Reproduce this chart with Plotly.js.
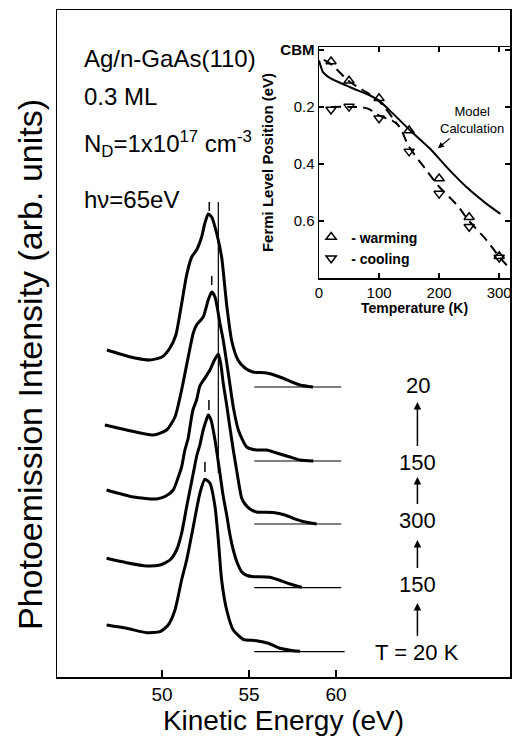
<!DOCTYPE html>
<html>
<head>
<meta charset="utf-8">
<script src="https://cdn.plot.ly/plotly-3.0.1.min.js"></script>
<style>html,body{margin:0;padding:0;background:#fff;}#chart{width:512px;height:736px;}</style>
</head>
<body>
<div id="chart"></div>
<script>
// ---------- Main panel: photoemission spectra (kinetic energy eV vs. intensity, arb. units, offset) ----------
const tempLabels = ['20', '150', '300', '150', 'T = 20 K'];

const energy20b = [46.84, 47.59, 48.45, 49.31, 50.0, 50.46, 50.80, 51.09, 51.42, 51.71, 51.99, 52.28, 52.47, 52.66, 52.86, 53.14, 53.43, 53.72, 54.01, 54.37, 54.77, 55.23, 56.02, 56.78, 57.93, 58.68];
const intens20b = [327, 323, 319, 317, 320, 329, 342, 369, 402, 420, 427, 440, 454, 463, 460, 444, 420, 372, 336, 317, 309, 305, 304, 300, 292, 290];

const energy150b = [46.72, 47.97, 49.50, 50.27, 50.75, 51.13, 51.51, 51.80, 51.99, 52.37, 52.66, 52.86, 53.05, 53.33, 53.52, 53.81, 54.10, 54.39, 54.87, 55.44, 56.02, 56.59, 57.36, 57.93, 58.70];
const intens150b = [252, 247, 242, 247, 260, 287, 320, 344, 352, 360, 377, 385, 380, 354, 337, 304, 270, 247, 230, 227, 227, 224, 220, 217, 216];

const energy300 = [46.82, 48.35, 49.70, 50.23, 50.65, 50.92, 51.13, 51.32, 51.51, 51.61, 51.78, 51.99, 52.18, 52.47, 52.76, 52.99, 53.24, 53.39, 53.52, 53.72, 53.91, 54.10, 54.29, 54.58, 54.77, 55.06, 55.44, 56.40, 57.07, 57.55, 58.22, 58.89];
const intens300 = [187, 180, 178, 181, 187, 199, 210, 227, 239, 250, 267, 277, 291, 299, 307, 316, 323, 312, 294, 272, 249, 227, 207, 179, 173, 168, 165, 164.5, 162, 158.7, 155, 153];

const energy150a = [46.82, 47.97, 49.12, 49.89, 50.46, 50.84, 51.13, 51.42, 51.61, 51.80, 52.01, 52.18, 52.37, 52.57, 52.66, 52.82, 53.05, 53.22, 53.33, 53.51, 53.72, 53.91, 54.10, 54.31, 54.58, 54.89, 55.25, 56.21, 57.36, 58.03];
const intens150a = [118.7, 114.3, 111, 112, 117, 127, 143.7, 170.3, 187, 203.7, 222, 232, 247, 258, 262, 257, 237, 217, 204, 182, 162, 142, 127, 115, 105.3, 101.5, 100.3, 99.7, 93, 89.7];

const energy20a = [46.82, 47.97, 49.12, 49.89, 50.36, 50.75, 51.13, 51.42, 51.80, 52.18, 52.47, 52.76, 53.05, 53.24, 53.43, 53.72, 54.10, 54.67, 55.44, 56.11, 56.78, 57.55, 57.93];
const intens20a = [52, 48.7, 44.3, 45.3, 52, 67, 97, 117, 150.3, 183.7, 197.7, 193.7, 170.3, 137, 97, 67, 47, 37.7, 36.3, 33.7, 28.7, 26.3, 25.7];

// zero-intensity baselines for each spectrum (top to bottom)
const baselineLevel = [290, 216, 153, 89.3, 25.3];
const baselineStartE = [55.3, 55.3, 55.3, 55.3, 55.3];
const baselineEndE = [60.3, 60.3, 60.3, 60.3, 60.5];

// peak position marks and reference line
const peakMarkE = [52.72, 52.86, 52.70, 52.47];
const peakMarkLow = [466, 392, 267, 205];
const peakMarkHigh = [475, 401, 277, 215];
const refLineE = [53.24, 53.24];
const refLineI = [475, 204];

// ---------- Inset: Fermi level position vs temperature ----------
const warmT = [20, 50, 100, 150, 200, 250, 300];
const warmEF = [0.041, 0.108, 0.170, 0.283, 0.451, 0.587, 0.724];
const coolT = [20, 50, 100, 150, 200, 250, 300];
const coolEF = [0.209, 0.199, 0.240, 0.356, 0.504, 0.620, 0.728];

const modelT = [0, 7, 18, 52, 85, 100, 118, 152, 185, 213, 246, 279, 302];
const modelEF = [0.037, 0.079, 0.098, 0.131, 0.160, 0.178, 0.213, 0.283, 0.347, 0.412, 0.482, 0.540, 0.575];

const warmFitT = [8, 20, 50, 80, 100, 130];
const warmFitEF = [0.035, 0.05, 0.11, 0.15, 0.18, 0.26];
const coolFitT = [20, 50, 80, 100, 130, 150, 180, 200, 230, 250, 280, 300, 317];
const coolFitEF = [0.20, 0.20, 0.205, 0.23, 0.26, 0.34, 0.425, 0.48, 0.545, 0.60, 0.67, 0.725, 0.765];

const insetTickVals = [0, 0.2, 0.4, 0.6];
const insetTickText = ['<b>CBM</b>', '0.2', '0.4', '0.6'];

// ---------- build ----------
const FONT = 'Liberation Sans, Arial, Helvetica, sans-serif';
const curveLine = {color: '#000', width: 3, shape: 'spline', smoothing: 0.6};
const spectra = [
  [energy20b, intens20b], [energy150b, intens150b], [energy300, intens300],
  [energy150a, intens150a], [energy20a, intens20a]
];
const traces = [];
spectra.forEach(function (s, k) {
  traces.push({x: s[0], y: s[1], mode: 'lines', line: curveLine, xaxis: 'x', yaxis: 'y',
    showlegend: false, hoverinfo: 'skip', name: tempLabels[k]});
  traces.push({x: [baselineStartE[k], baselineEndE[k]], y: [baselineLevel[k], baselineLevel[k]],
    mode: 'lines', line: {color: '#000', width: 1.2}, xaxis: 'x', yaxis: 'y', showlegend: false, hoverinfo: 'skip'});
});
peakMarkE.forEach(function (e, k) {
  traces.push({x: [e, e], y: [peakMarkLow[k], peakMarkHigh[k]], mode: 'lines',
    line: {color: '#000', width: 1.5}, xaxis: 'x', yaxis: 'y', showlegend: false, hoverinfo: 'skip'});
});
traces.push({x: refLineE, y: refLineI, mode: 'lines', line: {color: '#000', width: 1.2},
  xaxis: 'x', yaxis: 'y', showlegend: false, hoverinfo: 'skip'});

// inset
traces.push({x: modelT, y: modelEF, mode: 'lines', line: {color: '#000', width: 2, shape: 'spline', smoothing: 0.6},
  xaxis: 'x2', yaxis: 'y2', showlegend: false, name: 'Model Calculation'});
traces.push({x: warmFitT, y: warmFitEF, mode: 'lines', line: {color: '#000', width: 2, dash: '10px,6px', shape: 'spline'},
  xaxis: 'x2', yaxis: 'y2', showlegend: false});
traces.push({x: coolFitT, y: coolFitEF, mode: 'lines', line: {color: '#000', width: 2, dash: '10px,6px', shape: 'spline'},
  xaxis: 'x2', yaxis: 'y2', showlegend: false});
traces.push({x: warmT, y: warmEF, mode: 'markers', name: '<b>- warming</b>',
  marker: {symbol: 'triangle-up-open', size: 9, color: '#000', line: {width: 1.5, color: '#000'}},
  xaxis: 'x2', yaxis: 'y2', showlegend: true});
traces.push({x: coolT, y: coolEF, mode: 'markers', name: '<b>- cooling</b>',
  marker: {symbol: 'triangle-down-open', size: 9, color: '#000', line: {width: 1.5, color: '#000'}},
  xaxis: 'x2', yaxis: 'y2', showlegend: true});

const annotations = [];
const leftTexts = [
  ['Ag/n-GaAs(110)', 0.928],
  ['0.3 ML', 0.871],
  ['N<sub>D</sub>=1x10<sup>17</sup> cm<sup>-3</sup>', 0.799],
  ['h\u03BD=65eV', 0.7166]
];
leftTexts.forEach(function (t) {
  annotations.push({text: t[0], xref: 'paper', yref: 'paper', x: 0.055, y: t[1], xanchor: 'left', yanchor: 'middle',
    showarrow: false, font: {family: FONT, size: 24, color: '#000'}});
});
// main y-axis title, drawn as rotated text so it sits where the reference has it
annotations.push({text: 'Photoemission Intensity (arb. units)', xref: 'paper', yref: 'paper', x: -0.0596, y: 0.4678,
  xanchor: 'center', yanchor: 'middle', textangle: -90, showarrow: false,
  font: {family: FONT, size: 34, color: '#000'}});

// temperature sequence labels; the arrow of each points up to the previous label
annotations.push({text: tempLabels[0], xref: 'x', yref: 'y', x: 64.71, y: 292, showarrow: false,
  xanchor: 'center', yanchor: 'middle', font: {family: FONT, size: 22, color: '#000'}});
const arrowHeadI = [275, 200, 137, 74];
const labelOffsetPx = [60, 43, 44, 49];
for (let k = 1; k < tempLabels.length; k++) {
  annotations.push({text: tempLabels[k], xref: 'x', yref: 'y', x: 64.68, y: arrowHeadI[k - 1],
    ax: 0, ay: labelOffsetPx[k - 1], axref: 'pixel', ayref: 'pixel', showarrow: true, arrowhead: 2, arrowsize: 1,
    arrowwidth: 1.5, arrowcolor: '#000', standoff: 0, startstandoff: 2,
    font: {family: FONT, size: 22, color: '#000'}});
}
annotations.push({text: 'Model<br>Calculation', xref: 'x2', yref: 'y2', x: 198, y: 0.345, ax: 34, ay: -28,
  axref: 'pixel', ayref: 'pixel', showarrow: true, arrowhead: 2, arrowsize: 1, arrowwidth: 1.2, arrowcolor: '#000',
  startstandoff: 1, align: 'center', font: {family: FONT, size: 13, color: '#000'}});

const layout = {
  width: 512, height: 736,
  margin: {l: 57, r: 2, t: 10, b: 59},
  paper_bgcolor: '#fff', plot_bgcolor: 'rgba(0,0,0,0)',
  font: {family: FONT, color: '#000'},
  showlegend: true,
  legend: {x: 0.561, y: 0.683, xanchor: 'left', yanchor: 'top', bgcolor: 'rgba(0,0,0,0)',
    font: {family: FONT, size: 14, color: '#000'}, tracegroupgap: 0, itemwidth: 30},
  xaxis: {
    domain: [0, 1], range: [43.97, 70.0], tickvals: [50, 55, 60], ticks: 'inside', ticklen: 7, tickwidth: 1.5,
    tickcolor: '#000', showline: true, linewidth: 1.5, linecolor: '#000', mirror: true, showgrid: false, zeroline: false,
    tickfont: {family: FONT, size: 19, color: '#000'},
    title: {text: 'Kinetic Energy (eV)', font: {family: FONT, size: 28, color: '#000'}, standoff: 2}
  },
  yaxis: {
    domain: [0, 1], range: [0, 667], showticklabels: false, ticks: '', showline: true, linewidth: 1.5,
    linecolor: '#000', mirror: true, showgrid: false, zeroline: false
  },
  xaxis2: {
    domain: [0.5784, 1.0], range: [0, 318], anchor: 'y2', tickvals: [0, 100, 200, 300], ticks: 'inside',
    ticklen: 5, tickwidth: 1.5, tickcolor: '#000', showline: true, linewidth: 1.5, linecolor: '#000',
    mirror: 'ticks', showgrid: false, zeroline: false, tickfont: {family: FONT, size: 15, color: '#000'},
    title: {text: '<b>Temperature (K)</b>', font: {family: FONT, size: 14, color: '#000'}, standoff: 0}
  },
  yaxis2: {
    domain: [0.5982, 0.9445], range: [0.8, -0.01], anchor: 'x2', tickvals: insetTickVals, ticktext: insetTickText,
    ticks: 'inside', ticklen: 5, tickwidth: 1.5, tickcolor: '#000', showline: true, linewidth: 1.5,
    linecolor: '#000', mirror: 'ticks', showgrid: false, zeroline: false,
    tickfont: {family: FONT, size: 15, color: '#000'},
    title: {text: '<b>Fermi Level Position (eV)</b>', font: {family: FONT, size: 15, color: '#000'}, standoff: 3}
  },
  annotations: annotations
};

Plotly.newPlot('chart', traces, layout, {displayModeBar: false, staticPlot: true});
</script>
</body>
</html>
